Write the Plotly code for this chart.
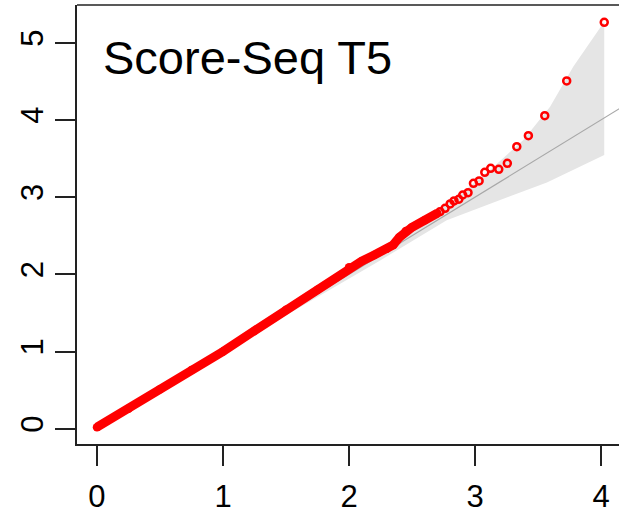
import plotly.graph_objects as go

dense_expected = [0.0, 0.25, 0.5, 0.75, 1.0, 1.25, 1.5, 1.75, 2.0, 2.1, 2.2, 2.3, 2.35, 2.4, 2.45, 2.5, 2.6, 2.7]
dense_observed = [0.02, 0.26, 0.51, 0.76, 1.0, 1.27, 1.54, 1.80, 2.09, 2.17, 2.25, 2.33, 2.38, 2.48, 2.56, 2.61, 2.70, 2.79]

# Sparse tail points
tail_expected = [4.025, 3.727, 3.553, 3.423, 3.331, 3.256, 3.188, 3.124, 3.077, 3.032,
                 2.987, 2.944, 2.902, 2.871, 2.833, 2.802, 2.762, 2.722]
tail_observed = [5.264, 4.504, 4.055, 3.795, 3.653, 3.438, 3.360, 3.373, 3.321, 3.209,
                 3.179, 3.057, 3.027, 2.972, 2.950, 2.911, 2.855, 2.811]

# Confidence band boundaries
band_upper_x = [0.0, 1.0, 1.5, 2.0, 2.5, 2.855, 3.119, 3.383, 3.595, 3.78, 4.025]
band_upper_y = [0.0, 1.015, 1.53, 2.06, 2.62, 3.005, 3.35, 3.74, 4.17, 4.69, 5.272]
band_lower_x = [4.025, 3.57, 2.775, 2.247, 1.5, 1.0, 0.0]
band_lower_y = [3.545, 3.19, 2.70, 2.18, 1.47, 0.985, 0.0]

# Reference line y = x
ref_x = [0.0, 4.2]
ref_y = [0.0, 4.2]

x_ticks = [0, 1, 2, 3, 4]
y_ticks = [0, 1, 2, 3, 4, 5]
title_text = "Score-Seq T5"

FONT = "Liberation Sans, Arial, sans-serif"
RED = "#ff0000"
AX = "#222222"

fig = go.Figure()
fig.add_trace(go.Scatter(
    x=band_upper_x + band_lower_x, y=band_upper_y + band_lower_y,
    mode="lines", fill="toself", fillcolor="#e5e5e5",
    line=dict(width=0, color="#e5e5e5"), hoverinfo="skip", showlegend=False))
fig.add_trace(go.Scatter(
    x=ref_x, y=ref_y, mode="lines",
    line=dict(color="#a8a8a8", width=1.2), showlegend=False))
fig.add_trace(go.Scatter(
    x=dense_expected, y=dense_observed, mode="lines+markers",
    line=dict(color=RED, width=9),
    marker=dict(color=RED, size=8.5, symbol="circle"), showlegend=False))
fig.add_trace(go.Scatter(
    x=tail_expected, y=tail_observed, mode="markers",
    marker=dict(color=RED, size=7, symbol="circle-open", line=dict(color=RED, width=2.5)),
    showlegend=False))

fig.add_shape(type="line", xref="paper", yref="paper", x0=0, x1=1, y0=1, y1=1,
              line=dict(color=AX, width=1.5))

fig.add_annotation(text=title_text, xref="paper", yref="paper", x=0.045, y=0.88,
                   xanchor="left", yanchor="middle", showarrow=False,
                   font=dict(family=FONT, size=47, color="black"))

fig.update_layout(
    width=619, height=514,
    margin=dict(l=77, r=0, t=5, b=70, autoexpand=False),
    paper_bgcolor="white", plot_bgcolor="white",
    xaxis=dict(range=[-0.1586, 4.142], tickvals=x_ticks, ticktext=[str(v) for v in x_ticks],
               ticks="outside", ticklen=20, tickwidth=1.5, tickcolor=AX,
               showline=True, linewidth=1.5, linecolor=AX, automargin=False,
               showgrid=False, zeroline=False, ticklabelstandoff=4,
               tickfont=dict(family=FONT, size=31, color="black")),
    yaxis=dict(range=[-0.198, 5.488], tickvals=y_ticks, ticktext=[str(v) for v in y_ticks],
               ticks="outside", ticklen=20, tickwidth=1.5, tickcolor=AX,
               showline=True, linewidth=1.5, linecolor=AX, automargin=False,
               showgrid=False, zeroline=False, tickangle=-90,
               tickfont=dict(family=FONT, size=31, color="black")),
)

fig.write_html("out.html", config={"displayModeBar": False},
               post_script="document.body.style.margin='0px';document.body.style.overflow='hidden';")
